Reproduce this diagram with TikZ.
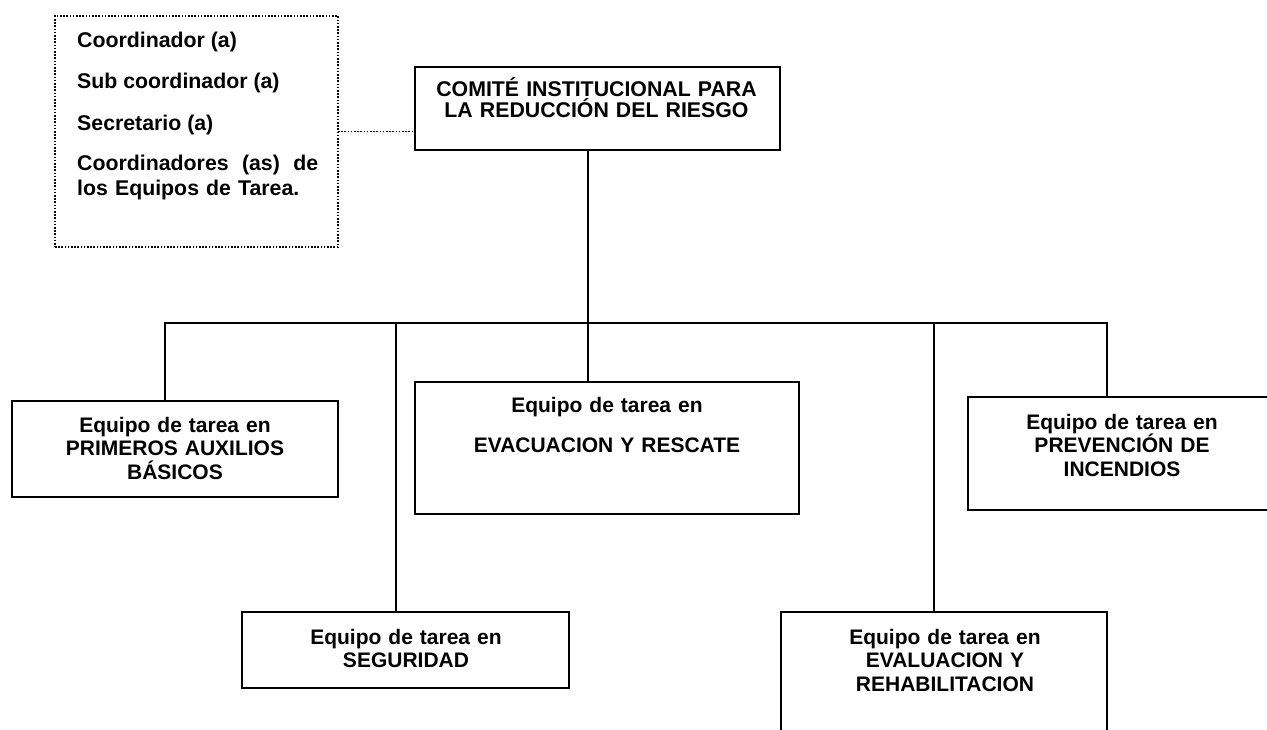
\documentclass[tikz,border=0pt]{standalone}
\usepackage{fontspec}
\setmainfont{Liberation Sans}
\begin{document}
\begin{tikzpicture}[x=1pt,y=-1pt,
  box/.style={draw, line width=2.3pt, rectangle, outer sep=0pt, inner sep=0pt},
  dotbox/.style={draw, line width=1.6pt, dash pattern=on 1.6pt off 1.6pt, rectangle, outer sep=0pt, inner sep=0pt},
  dotline/.style={line width=1.6pt, dash pattern=on 1.6pt off 1.6pt},
  conn/.style={line width=2.8pt},
  lbl/.style={font=\bfseries\fontsize{21}{23.5}\selectfont, align=center, anchor=base, inner sep=0pt},
  item/.style={font=\bfseries\fontsize{21.3}{25}\selectfont, align=left, anchor=base west, inner sep=0pt},
]
\useasboundingbox (0,0) rectangle (1267,729);
\clip (0,0) rectangle (1267,729);
\fill[white] (0,0) rectangle (1267,729);

% boxes
\node[dotbox, minimum width=283, minimum height=231] (D) at (196.5,131.5) {};
\node[box, minimum width=365, minimum height=83] (M) at (597.5,108.5) {};
\node[box, minimum width=326, minimum height=96] (B1) at (175,449) {};
\node[box, minimum width=384, minimum height=132] (E) at (607,448) {};
\node[box, minimum width=308, minimum height=113] (P) at (1122,453.5) {};
\node[box, minimum width=327, minimum height=76] (S) at (405.5,650) {};
\node[box, minimum width=326, minimum height=150] (V) at (944,687) {};

% texts
\node[item] (d1) at (77,47) {Coordinador (a)};
\node[item] (d2) at (77,88.5) {Sub coordinador (a)};
\node[item] (d3) at (77,130) {Secretario (a)};
\node[item, text width=241] (d4) at (77,170) {\hbox to 241pt{Coordinadores\hfill(as)\hfill de}\\los Equipos de Tarea.};

\node[lbl, text width=360, font=\bfseries\fontsize{21.3}{21}\selectfont] (Mt) at (596.5,96) {COMITÉ INSTITUCIONAL PARA\\LA REDUCCIÓN DEL RIESGO};
\node[lbl, text width=320] (B1t) at (175,432) {Equipo de tarea en\\PRIMEROS AUXILIOS\\BÁSICOS};
\node[lbl, text width=380] (Et) at (607,412) {Equipo de tarea en\\[16.5pt]EVACUACION Y RESCATE};
\node[lbl, text width=300] (Pt) at (1122,429) {Equipo de tarea en\\PREVENCIÓN DE\\INCENDIOS};
\node[lbl, text width=320] (St) at (406,644) {Equipo de tarea en\\SEGURIDAD};
\node[lbl, text width=320] (Vt) at (945,644) {Equipo de tarea en\\EVALUACION Y\\REHABILITACION};

% connectors
\coordinate (j1) at (165,323);
\coordinate (j2) at (396,323);
\coordinate (j3) at (588,323);
\coordinate (j4) at (934,323);
\coordinate (j5) at (1107,323);

\draw[dotline] (D.east) -- (D.east -| M.west);
\draw[conn] (M.south -| j3) -- (j3);
\draw[conn, line cap=rect] (j1) -- (j5);
\draw[conn] (j1) -- (j1 |- B1.north);
\draw[conn] (j2) -- (j2 |- S.north);
\draw[conn] (j3) -- (j3 |- E.north);
\draw[conn] (j4) -- (j4 |- V.north);
\draw[conn] (j5) -- (j5 |- P.north);
\end{tikzpicture}
\end{document}
